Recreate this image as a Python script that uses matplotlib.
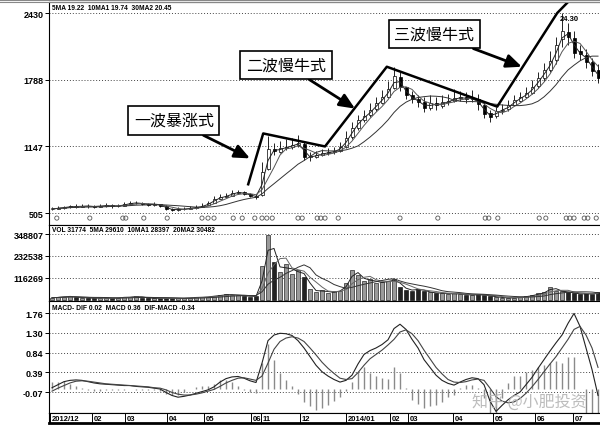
import matplotlib
matplotlib.use('Agg')
import matplotlib.pyplot as plt
import numpy as np
import pandas as pd

plt.rcParams['font.family'] = ['Liberation Sans', 'Noto Sans CJK SC', 'DejaVu Sans']

# price bars (about 3 trading days per bar)
opens = [540, 548, 556, 562, 572, 566, 576, 570, 566, 574, 582, 571, 577, 592, 600, 606, 592, 584, 591, 574,
         546, 536, 541, 546, 556, 562, 578, 602, 642, 662, 672, 702, 706, 688, 672, 680, 930, 1125, 1095, 1128,
         1138, 1162, 1170, 1045, 1048, 1062, 1082, 1088, 1102, 1145, 1235, 1325, 1405, 1445, 1505, 1565, 1625, 1710, 1810, 1715,
         1645, 1598, 1575, 1515, 1565, 1535, 1575, 1585, 1612, 1618, 1605, 1600, 1545, 1465, 1435, 1488, 1505, 1545, 1585, 1625,
         1665, 1725, 1805, 1885, 1980, 2180, 2250, 2190, 2060, 2030, 1955, 1880]
close = [545, 555, 560, 570, 565, 575, 570, 565, 575, 580, 570, 575, 590, 600, 605, 590, 585, 590, 575, 545,
         535, 540, 545, 555, 560, 575, 600, 640, 660, 670, 700, 705, 690, 670, 660, 900, 1120, 1100, 1130, 1140,
         1160, 1180, 1040, 1050, 1060, 1080, 1090, 1100, 1140, 1230, 1320, 1400, 1440, 1500, 1560, 1620, 1700, 1820, 1720, 1640,
         1600, 1570, 1520, 1560, 1540, 1570, 1580, 1610, 1620, 1600, 1610, 1550, 1460, 1430, 1490, 1500, 1540, 1590, 1620, 1660,
         1720, 1800, 1880, 1970, 2120, 2260, 2200, 2050, 2040, 1960, 1870, 1800]
high = [565, 572, 575, 585, 590, 592, 590, 585, 590, 600, 595, 592, 610, 620, 625, 612, 605, 610, 595, 578,
        555, 560, 565, 575, 580, 598, 625, 665, 690, 700, 725, 730, 720, 695, 690, 1000, 1250, 1180, 1200, 1220,
        1230, 1260, 1190, 1090, 1100, 1120, 1130, 1140, 1190, 1290, 1380, 1450, 1500, 1560, 1620, 1690, 1780, 1910, 1860, 1720,
        1680, 1640, 1620, 1640, 1620, 1640, 1650, 1700, 1680, 1670, 1690, 1650, 1580, 1500, 1530, 1550, 1590, 1640, 1670, 1720,
        1790, 1860, 1950, 2060, 2200, 2430, 2330, 2260, 2120, 2080, 2000, 1940]
low = [530, 540, 545, 552, 555, 560, 558, 552, 560, 565, 558, 562, 575, 585, 590, 578, 572, 575, 560, 530,
       522, 528, 532, 540, 548, 560, 585, 625, 645, 655, 685, 690, 675, 655, 640, 670, 920, 1060, 1080, 1110,
       1120, 1140, 1020, 1010, 1030, 1050, 1060, 1075, 1090, 1130, 1220, 1300, 1380, 1430, 1490, 1550, 1610, 1700, 1680, 1600,
       1560, 1530, 1480, 1500, 1500, 1520, 1540, 1570, 1580, 1560, 1570, 1500, 1420, 1380, 1420, 1460, 1490, 1540, 1570, 1610,
       1650, 1710, 1780, 1860, 1940, 2100, 2120, 2000, 1980, 1900, 1820, 1760]
volume = [12000, 15000, 18000, 20000, 14000, 12000, 10000, 9000, 11000, 10000, 9000, 12000, 16000, 14000, 22000, 12000,
          10000, 9000, 8000, 10000, 9000, 8000, 10000, 12000, 15000, 14000, 18000, 22000, 25000, 30000, 28000, 24000,
          22000, 18000, 20000, 180000, 345000, 200000, 150000, 190000, 140000, 160000, 120000, 60000, 40000, 55000,
          35000, 45000, 50000, 90000, 160000, 130000, 100000, 110000, 90000, 95000, 100000, 110000, 70000, 55000,
          50000, 60000, 45000, 40000, 35000, 38000, 30000, 35000, 30000, 28000, 25000, 30000, 25000, 20000, 15000,
          12000, 10000, 12000, 15000, 20000, 25000, 35000, 40000, 70000, 50000, 45000, 40000, 35000, 30000, 35000,
          30000, 40000]
dif = [0.03, 0.10, 0.17, 0.20, 0.21, 0.20, 0.17, 0.14, 0.12, 0.11, 0.10, 0.09, 0.08, 0.08, 0.06, 0.05, 0.04, 0.02,
       0.00, -0.08, -0.15, -0.19, -0.17, -0.14, -0.10, -0.06, -0.02, 0.05, 0.16, 0.24, 0.28, 0.29, 0.25, 0.19, 0.15,
       0.60, 1.12, 1.25, 1.29, 1.28, 1.24, 1.12, 0.95, 0.75, 0.55, 0.40, 0.30, 0.22, 0.16, 0.20, 0.32, 0.58, 0.80,
       0.89, 0.95, 1.03, 1.14, 1.40, 1.50, 1.38, 1.15, 0.95, 0.68, 0.50, 0.32, 0.20, 0.13, 0.09, 0.16, 0.22, 0.26,
       0.24, 0.10, -0.28, -0.52, -0.38, -0.25, -0.15, -0.07, 0.10, 0.27, 0.48, 0.68, 0.88, 1.07, 1.25, 1.52, 1.75,
       1.45, 0.95, 0.45, -0.15]
dea = [-0.05, 0.02, 0.08, 0.14, 0.18, 0.19, 0.18, 0.16, 0.14, 0.12, 0.11, 0.10, 0.09, 0.08, 0.07, 0.06, 0.05, 0.03,
       0.02, -0.02, -0.08, -0.12, -0.14, -0.14, -0.12, -0.09, -0.05, -0.01, 0.06, 0.14, 0.20, 0.25, 0.26, 0.23, 0.20,
       0.30, 0.60, 0.92, 1.10, 1.18, 1.21, 1.18, 1.10, 0.95, 0.79, 0.62, 0.48, 0.36, 0.25, 0.22, 0.24, 0.38, 0.55,
       0.70, 0.80, 0.90, 1.02, 1.15, 1.32, 1.37, 1.28, 1.12, 0.90, 0.70, 0.50, 0.35, 0.22, 0.16, 0.15, 0.17, 0.21,
       0.23, 0.20, 0.02, -0.18, -0.28, -0.32, -0.30, -0.22, -0.10, 0.05, 0.22, 0.40, 0.58, 0.75, 0.95, 1.15, 1.38,
       1.45, 1.25, 0.95, 0.50]

event_bars = [0.8, 6.3, 11.8, 12.3, 15.3, 19.2, 25, 26, 27, 30.2, 31.7, 33.8, 35, 35.8, 36.7, 41, 41.7, 44.2, 44.8,
              45.5, 47.7, 58, 64.3, 72.2, 72.8, 74.3, 81.2, 82.3, 85.7, 86.3, 87, 88.7, 89.3, 90.7]

date_labels = ['2012/12', '02', '03', '04', '05', '06', '11', '12', '2014/01', '02', '03', '04', '05', '06', '07']
date_bars = [-0.3, 6.7, 12.2, 19.2, 25.3, 33.2, 34.9, 41.3, 49, 56.3, 59.3, 66.8, 73.5, 80.5, 86.8]

price_ticks = [505, 1147, 1788, 2430]
vol_ticks = [116269, 232538, 348807]
macd_ticks = [-0.07, 0.39, 0.84, 1.30, 1.76]

# wave lines and callouts (bar index, price)
wave_x = [32.7, 35.2, 45.5, 55.8, 74.2, 84.2, 86.0]
wave_y = [782, 1271, 1146, 1913, 1529, 2430, 2536]
callouts = [('一波暴涨式', (20.3, 1395), (33.0, 1031)),
            ('二波慢牛式', (39.0, 1932), (50.5, 1510)),
            ('三波慢牛式', (63.7, 2229), (78.3, 1913))]

W, H = 600, 427
fig = plt.figure(figsize=(6, 4.27), dpi=100)


def panel(top, bottom):
    ax = fig.add_axes([49 / W, 1 - bottom / H, 551 / W, (bottom - top) / H])
    ax.set_xlim(-0.5, 91.33)
    ax.spines['right'].set_visible(False)
    for s in ['left', 'top', 'bottom']:
        ax.spines[s].set_linewidth(0.8)
    ax.set_xticks([])
    ax.tick_params(axis='y', length=3, width=0.7, pad=1, labelsize=6.5)
    return ax


def grid(ax, ticks, labels):
    ax.set_yticks(ticks)
    ax.set_yticklabels(labels, fontweight='bold', fontsize=6.5)
    for t in ticks:
        ax.axhline(t, color='#444444', lw=0.7, ls=(0, (1, 2)), zorder=0)


bars = np.arange(len(close))
o = np.array(opens)
c = np.array(close)
up = c >= o

# price panel
ax_p = panel(3, 226)
ax_p.set_ylim(390, 2536)
grid(ax_p, price_ticks, [str(t) for t in price_ticks])
ax_p.vlines(bars, low, high, color='black', lw=0.6, zorder=2)
ax_p.bar(bars, np.abs(c - o), bottom=np.minimum(c, o), width=0.5,
         color=np.where(up, 'white', 'black'), edgecolor='black', linewidth=0.5, zorder=3)
for w, col in [(2, '#222222'), (4, '#555555'), (10, '#333333')]:
    ax_p.plot(bars, pd.Series(close).rolling(w, min_periods=1).mean(), color=col, lw=0.7, zorder=4)
ax_p.scatter(event_bars, [0.031] * len(event_bars), transform=ax_p.get_xaxis_transform(),
             s=9, facecolor='none', edgecolor='#555555', linewidth=0.6, zorder=5)
top_i = int(np.argmax(high))
ax_p.text(top_i - 0.3, high[top_i] - 15, '%.2f' % (high[top_i] / 100), fontsize=5.5, fontweight='bold',
          va='top', ha='left', zorder=6)
ax_p.plot(wave_x, wave_y, color='black', lw=1.8, zorder=6, clip_on=True)
for txt, box, head in callouts:
    ax_p.annotate(txt, xy=head, xytext=box, ha='center', va='center', fontsize=11.5,
                  family=['Noto Sans CJK SC'], zorder=7,
                  bbox=dict(boxstyle='square,pad=0.35', fc='white', ec='black', lw=1.2),
                  arrowprops=dict(arrowstyle='-|>,head_width=0.35,head_length=0.8', color='black',
                                  lw=2, shrinkA=0, shrinkB=0))

# volume panel
ax_v = panel(226, 302)
ax_v.set_ylim(-5286, 396372)
grid(ax_v, vol_ticks, [str(t) for t in vol_ticks])
ax_v.bar(bars, volume, width=0.7, color=np.where(up, '#9a9a9a', '#222222'),
         edgecolor='black', linewidth=0.4, zorder=2)
for w, col in [(2, '#222222'), (4, '#666666'), (8, '#333333')]:
    ax_v.plot(bars, pd.Series(volume).rolling(w, min_periods=1).mean(), color=col, lw=0.7, zorder=3)

# macd panel
ax_m = panel(302, 414)
ax_m.set_ylim(-0.556, 2.038)
grid(ax_m, macd_ticks, ['%.2f' % t for t in macd_ticks])
hist = 2 * (np.array(dif) - np.array(dea))
ax_m.vlines(bars, 0, hist, color='#8a8a8a', lw=1.0, zorder=2)
ax_m.plot(bars, dif, color='#222222', lw=0.8, zorder=3)
ax_m.plot(bars, dea, color='#444444', lw=0.8, zorder=3)

# date strip
ax_d = panel(414, 424)
ax_d.set_ylim(0, 1)
ax_d.set_yticks([])
ax_d.spines['bottom'].set_linewidth(2)
for lab, b in zip(date_labels, date_bars):
    ax_d.axvline(b, color='black', lw=0.7)
    ax_d.text(b + 0.25, 0.45, lab, fontsize=5.5, fontweight='bold', ha='left', va='center')

# panel headers
fig.text(52 / W, 1 - 8 / H, '5MA 19.22  10MA1 19.74  30MA2 20.45', fontsize=4.8, fontweight='bold', va='center')
fig.text(52 / W, 1 - 231 / H, 'VOL 31774  5MA 29610  10MA1 28397  20MA2 30482', fontsize=4.8, fontweight='bold', va='center')
fig.text(52 / W, 1 - 308 / H, 'MACD- DIF 0.02  MACD 0.36  DIF-MACD -0.34', fontsize=4.8, fontweight='bold', va='center')

fig.text(472 / W, 1 - 402 / H, '知乎 @小肥投资', fontsize=11.5, color='#b5b5b5', alpha=0.9,
         family=['Noto Sans CJK SC', 'DejaVu Sans'], va='center')

fig.add_artist(plt.Line2D([0, 1], [1 - 1 / H, 1 - 1 / H], color='#888888', lw=0.8))
fig.add_artist(plt.Line2D([0, 1], [1 - 3 / H, 1 - 3 / H], color='#888888', lw=0.8))

fig.savefig('out.png', dpi=100)
